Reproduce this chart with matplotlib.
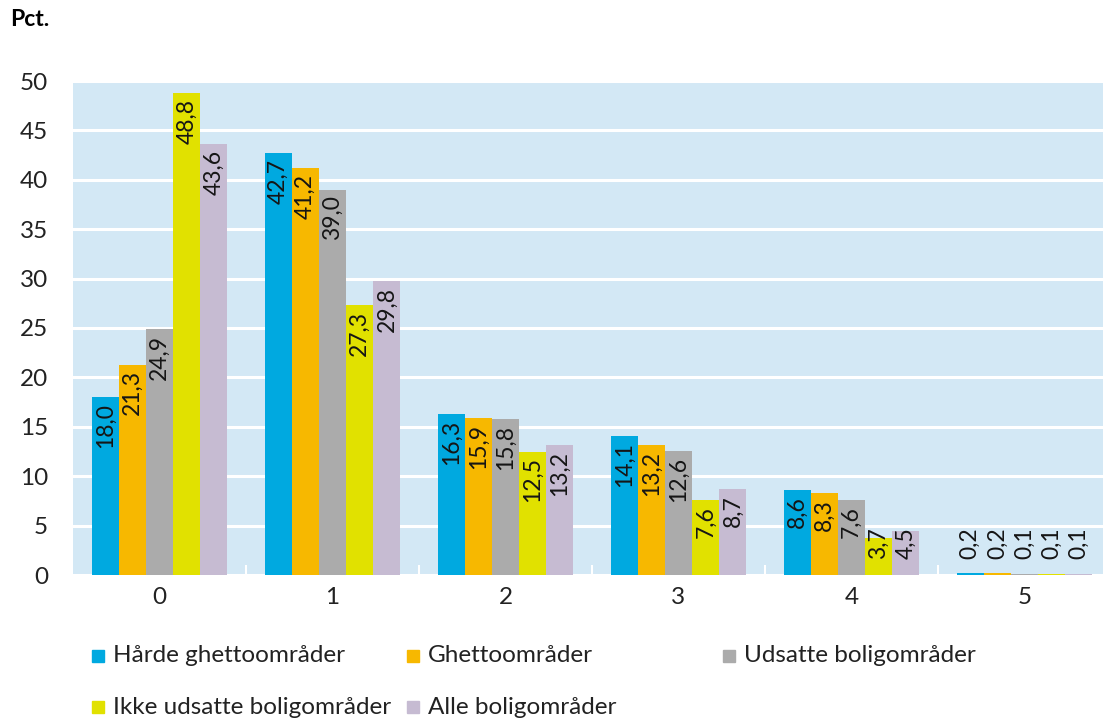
import matplotlib
matplotlib.use("Agg")
import matplotlib.pyplot as plt
from matplotlib.patches import Rectangle
import numpy as np

plt.rcParams['font.family'] = ['Lato', 'DejaVu Sans']

categories = ["0", "1", "2", "3", "4", "5"]
series_names = ["Hårde ghettoområder", "Ghettoområder", "Udsatte boligområder",
                "Ikke udsatte boligområder", "Alle boligområder"]
haarde = [18.0, 42.7, 16.3, 14.1, 8.6, 0.2]
ghetto = [21.3, 41.2, 15.9, 13.2, 8.3, 0.2]
udsatte = [24.9, 39.0, 15.8, 12.6, 7.6, 0.1]
ikke_udsatte = [48.8, 27.3, 12.5, 7.6, 3.7, 0.1]
alle = [43.6, 29.8, 13.2, 8.7, 4.5, 0.1]
series = [haarde, ghetto, udsatte, ikke_udsatte, alle]
colors = ["#00A9E0", "#F7B800", "#ABABAB", "#E1E100", "#C6BBD2"]
yticks = [0, 5, 10, 15, 20, 25, 30, 35, 40, 45, 50]

W, H = 1103, 718
fig = plt.figure(figsize=(W / 100, H / 100), dpi=100)
ax = fig.add_axes([73 / W, 1 - 575 / H, (1111 - 73) / W, (575 - 81) / H])
ax.set_facecolor("#D3E8F5")
for s in ax.spines.values():
    s.set_visible(False)

x = np.arange(len(categories))
bw = 0.157
for i, (vals, c) in enumerate(zip(series, colors)):
    pos = x + (i - 2) * bw
    ax.bar(pos, vals, width=bw, color=c, zorder=3, linewidth=0)
    for p, v in zip(pos, vals):
        top = max(v - 0.6, 4.8)
        ax.text(p, top, f"{v:.1f}".replace(".", ","), rotation=90, ha="center",
                va="top", fontsize=16.5, color="#151515", zorder=4)

ax.set_xlim(-0.5, 5.5)
ax.set_ylim(0, 50)
ax.set_yticks(yticks)
ax.set_yticklabels([str(t) for t in yticks], fontsize=17.5, color="#222222")
ax.yaxis.grid(True, color="white", linewidth=2.2, zorder=1)
ax.set_axisbelow(True)
ax.tick_params(axis="y", length=0, pad=18)
ax.set_xticks(x)
ax.set_xticklabels(categories, fontsize=17.5, color="#222222")
ax.tick_params(axis="x", length=0, pad=9)
ax.set_xticks(np.arange(0.5, 5.5, 1.0), minor=True)
ax.tick_params(axis="x", which="minor", length=7, width=1.5, color="white", direction="in")

fig.text(10 / W, 1 - 20 / H, "Pct.", fontsize=16.5, fontweight="bold", va="center", ha="left")

# legend
legend_pos = [(92, 656), (407, 656), (723, 656), (92, 707), (407, 707)]
for (lx, ly), name, c in zip(legend_pos, series_names, colors):
    fig.patches.append(Rectangle((lx / W, 1 - (ly + 6) / H), 12 / W, 12 / H,
                                 transform=fig.transFigure, color=c, figure=fig))
    fig.text((lx + 21) / W, 1 - ly / H, name, fontsize=17.5, va="center", ha="left",
             color="#222222")

fig.savefig("out.png", dpi=100)
